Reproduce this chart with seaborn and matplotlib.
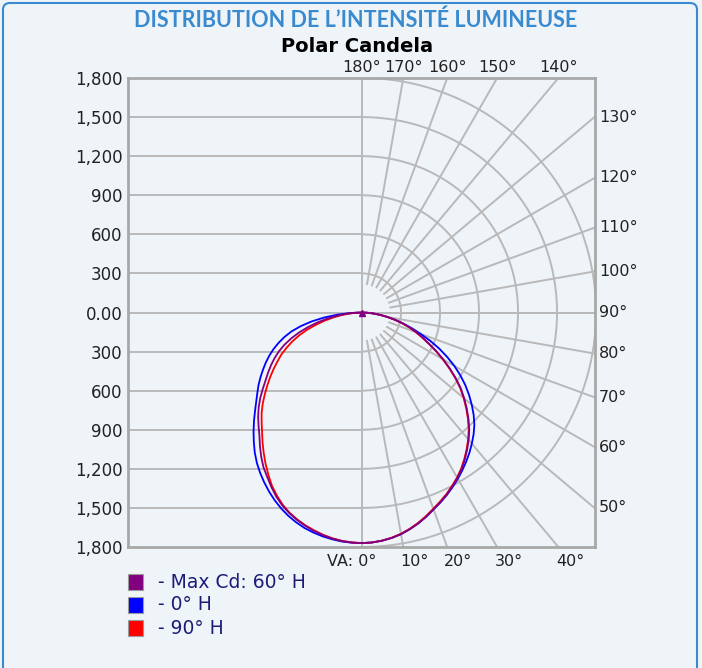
import numpy as np
import pandas as pd
import matplotlib
matplotlib.use("Agg")
import matplotlib.pyplot as plt
from matplotlib.patches import Rectangle, FancyBboxPatch
import seaborn as sns

# ---------------- data ----------------
va_angles = [0, 2.5, 5, 7.5, 10, 12.5, 15, 17.5, 20, 22.5, 25, 27.5, 30, 32.5, 35, 37.5,
             40, 42.5, 45, 47.5, 50, 52.5, 55, 57.5, 60, 62.5, 65, 67.5, 70, 72.5, 75,
             77.5, 80, 82.5, 85, 87.5, 90]

# 0° H (right half) and its opposite plane (left half)
cd_0H_left = [1770, 1769, 1765, 1756, 1745, 1730, 1712, 1688, 1660, 1627, 1590, 1549, 1505,
              1459, 1410, 1355, 1295, 1235, 1175, 1116, 1062, 1015, 972, 926, 880, 835, 788,
              738, 684, 626, 562, 482, 392, 292, 190, 92, 0]
cd_0H_right = [1770, 1767, 1758, 1745, 1727, 1703, 1675, 1643, 1608, 1578, 1545, 1510, 1474,
               1436, 1397, 1357, 1314, 1270, 1222, 1165, 1102, 1037, 969, 896, 820, 738, 655,
               568, 480, 402, 330, 262, 200, 142, 90, 42, 0]

# 90° H
cd_90H_left = [1770, 1767, 1760, 1748, 1732, 1712, 1690, 1664, 1634, 1596, 1550, 1500, 1440,
               1380, 1318, 1257, 1196, 1143, 1092, 1036, 976, 918, 862, 806, 751, 700, 640,
               580, 515, 445, 370, 300, 230, 165, 105, 50, 0]
cd_90H_right = [1770, 1767, 1758, 1744, 1725, 1700, 1671, 1638, 1603, 1570, 1537, 1500, 1462,
                1420, 1372, 1322, 1270, 1215, 1152, 1087, 1020, 952, 875, 795, 717, 640, 565,
                500, 440, 380, 320, 258, 198, 140, 88, 42, 0]

# 60° H (max candela plane)
cd_60H_left = [1770, 1767, 1761, 1750, 1735, 1716, 1694, 1668, 1638, 1603, 1560, 1510, 1458,
               1410, 1352, 1290, 1228, 1178, 1130, 1078, 1022, 962, 905, 856, 808, 758, 705,
               645, 578, 505, 428, 350, 272, 196, 125, 60, 0]
cd_60H_right = [1770, 1767, 1759, 1746, 1728, 1703, 1675, 1643, 1608, 1575, 1542, 1505, 1467,
                1426, 1378, 1328, 1276, 1221, 1158, 1093, 1026, 958, 881, 801, 722, 645, 570,
                505, 445, 385, 324, 262, 201, 142, 89, 42, 0]

series_names = ["- Max Cd: 60° H", "- 0° H", "- 90° H"]
series_colors = ["#800080", "#0000ff", "#ff0000"]

ring_values = [300, 600, 900, 1200, 1500, 1800]
y_tick_values = [1800, 1500, 1200, 900, 600, 300, 0, -300, -600, -900, -1200, -1500, -1800]
y_tick_labels = ["1,800", "1,500", "1,200", "900", "600", "300", "0.00",
                 "300", "600", "900", "1,200", "1,500", "1,800"]
top_angles = [180, 170, 160, 150, 140]
right_angles = [130, 120, 110, 100, 90, 80, 70, 60, 50]
bottom_angles = [0, 10, 20, 30, 40]

# ---------------- figure ----------------
W, H = 702, 668
BG = "#eff4f9"
GRID = "#b9b9b9"
sns.set_theme(style="white")
plt.rcParams["font.family"] = ["DejaVu Sans"]

fig = plt.figure(figsize=(W / 100, H / 100), dpi=100, facecolor=BG)

def fx(px):
    return px / W

def fy(py):
    return 1 - py / H

ax_l, ax_r, ax_t, ax_b = 128, 595, 78, 547
ax = fig.add_axes([fx(ax_l), fy(ax_b), fx(ax_r - ax_l), (ax_b - ax_t) / H])
ax.set_facecolor(BG)
XMIN, XMAX, YMIN, YMAX = -1800, 1792, -1800, 1800
ax.set_xlim(XMIN, XMAX)
ax.set_ylim(YMIN, YMAX)

# left-half horizontal grid
for v in y_tick_values:
    if abs(v) in (0, 1800):
        continue
    ax.plot([XMIN, 0], [v, v], color=GRID, lw=1.4, zorder=1, solid_capstyle="butt")
ax.axhline(0, color=GRID, lw=1.4, zorder=1)
ax.axvline(0, color=GRID, lw=1.4, zorder=1)

# right-half polar grid
th = np.radians(np.linspace(0, 180, 361))
for r in ring_values:
    ax.plot(r * np.sin(th), -r * np.cos(th), color=GRID, lw=1.4, zorder=1)
for a in range(10, 180, 10):
    t = np.radians(a)
    sx, sy = np.sin(t), -np.cos(t)
    ax.plot([220 * sx, 4000 * sx], [220 * sy, 4000 * sy], color=GRID, lw=1.4, zorder=1)

# curves
rows = []
for name, left, right in [("- Max Cd: 60° H", cd_60H_left, cd_60H_right),
                          ("- 0° H", cd_0H_left, cd_0H_right),
                          ("- 90° H", cd_90H_left, cd_90H_right)]:
    k = 0
    for a, v in zip(va_angles[::-1], left[::-1]):
        t = np.radians(a)
        rows.append(dict(series=name, order=k, x=-v * np.sin(t), y=-v * np.cos(t)))
        k += 1
    for a, v in zip(va_angles[1:], right[1:]):
        t = np.radians(a)
        rows.append(dict(series=name, order=k, x=v * np.sin(t), y=-v * np.cos(t)))
        k += 1
df = pd.DataFrame(rows)
palette = dict(zip(series_names, series_colors))
sns.lineplot(data=df, x="x", y="y", hue="series", units="series", estimator=None,
             sort=False, palette=palette,
             hue_order=["- 0° H", "- 90° H", "- Max Cd: 60° H"],
             legend=False, linewidth=1.3, ax=ax, zorder=3)
ax.plot([0], [0], marker="^", color="#800080", ms=4.5, zorder=4, clip_on=False)

# axes styling
for s in ax.spines.values():
    s.set_color("#a8a8a8")
    s.set_linewidth(2)
ax.set_xticks([])
ax.set_yticks(y_tick_values)
ax.set_yticklabels(y_tick_labels)
ax.tick_params(axis="y", length=0, pad=4, labelsize=12, labelcolor="#222222")
ax.set_xlabel("")
ax.set_ylabel("")

# angle labels
cx_px = ax_l + (0 - XMIN) / (XMAX - XMIN) * (ax_r - ax_l)
cy_px = ax_t + (YMAX - 0) / (YMAX - YMIN) * (ax_b - ax_t)
lab_kw = dict(fontsize=11.5, color="#222222")
for a in top_angles:
    t = np.radians(180 - a)
    xp = cx_px + (cy_px - ax_t) * np.tan(t)
    fig.text(fx(xp), fy(68), f"{a}°", ha="center", va="center", **lab_kw)
for a in right_angles:
    t = np.radians(a)
    yp = cy_px + (ax_r - cx_px) / np.tan(t)
    fig.text(fx(599), fy(yp), f"{a}°", ha="left", va="center", **lab_kw)
for a in bottom_angles:
    t = np.radians(a)
    xp = cx_px + (ax_b - cy_px) * np.tan(t)
    if a == 0:
        fig.text(fx(376), fy(562), "VA: 0°", ha="right", va="center", **lab_kw)
    else:
        fig.text(fx(xp - 3), fy(562), f"{a}°", ha="left", va="center", **lab_kw)

# titles
fig.text(fx(356), fy(20), "DISTRIBUTION DE L\u2019INTENSITÉ LUMINEUSE", ha="center", va="center",
         fontsize=15.5, fontweight="bold", color="#3a8ad0", family=["Lato", "DejaVu Sans"])
fig.text(fx(357), fy(46), "Polar Candela", ha="center", va="center",
         fontsize=14, fontweight="bold", color="#000000")

# legend
for i, (name, col) in enumerate(zip(series_names, series_colors)):
    yc = 582 + i * 23
    fig.add_artist(Rectangle((fx(128), fy(yc + 8)), fx(15), 16 / H, transform=fig.transFigure,
                             facecolor=col, edgecolor="#9a9a9a", lw=0.8))
    fig.text(fx(158), fy(yc), name, ha="left", va="center", fontsize=13.5, color="#1c1c78")

# outer border
fig.add_artist(FancyBboxPatch((fx(3), fy(700)), fx(694), 697 / H, transform=fig.transFigure,
                              boxstyle="round,pad=0,rounding_size=0.01", facecolor="none",
                              edgecolor="#3a8ad0", lw=1.5))

fig.savefig("out.png", dpi=100, facecolor=BG)
